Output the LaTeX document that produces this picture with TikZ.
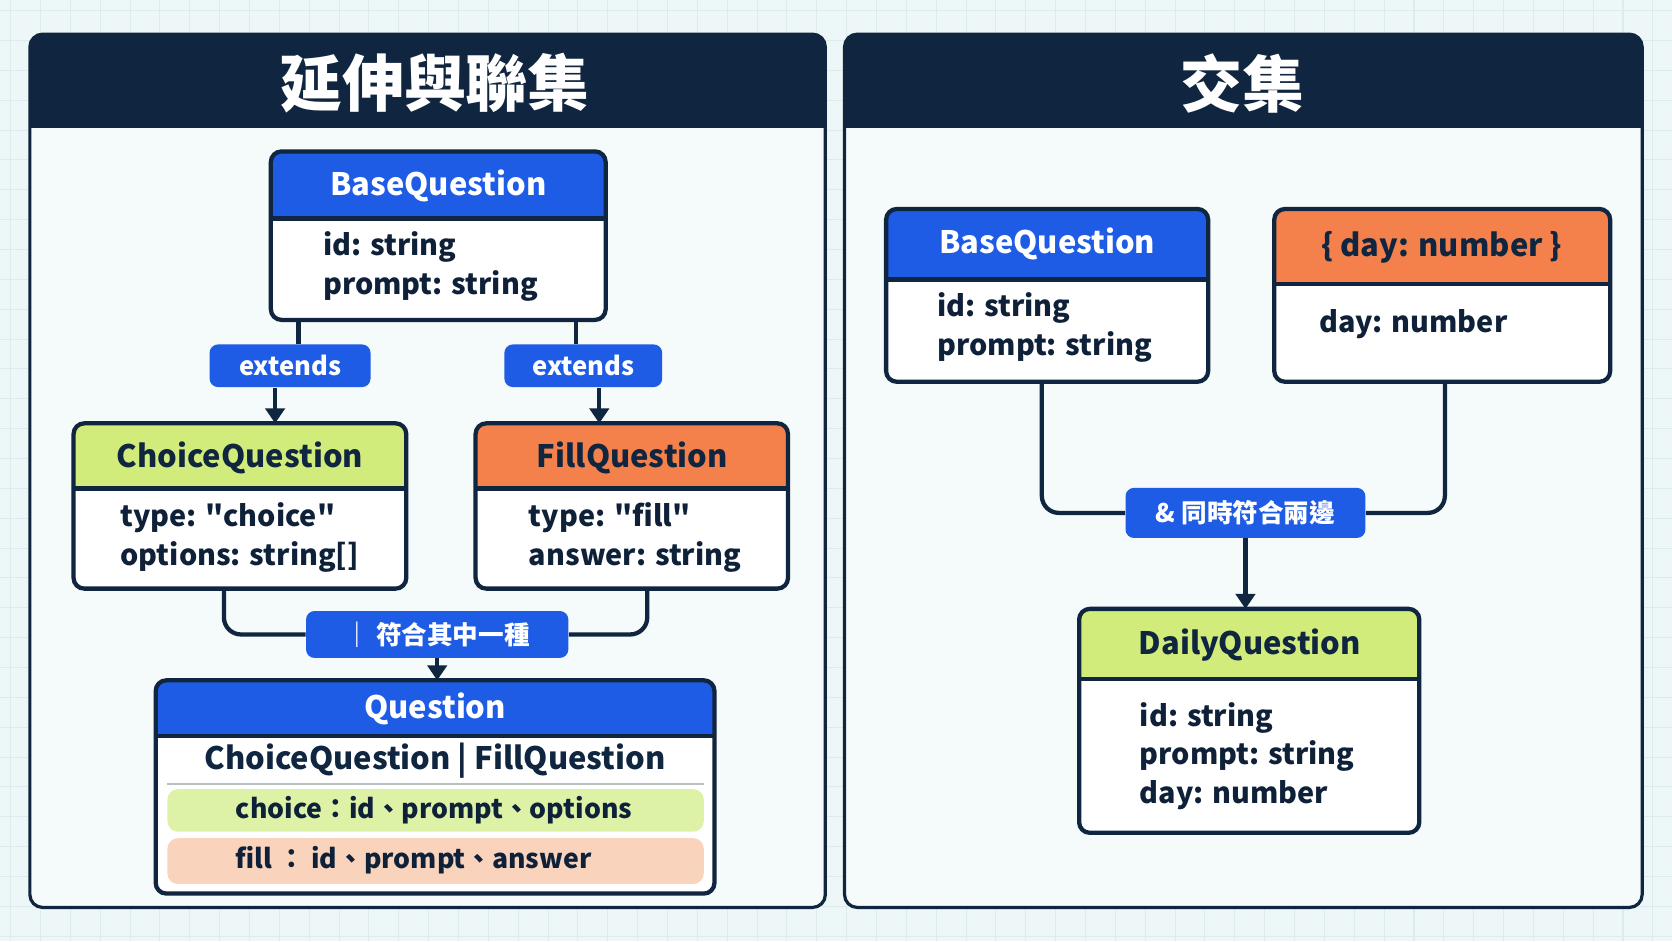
\documentclass[tikz,border=0pt]{standalone}
\usepackage{fontspec}
\newfontfamily\cjk{Noto Sans CJK TC}
\usetikzlibrary{positioning,arrows.meta}
\definecolor{navy}{HTML}{10253F}
\definecolor{hblue}{HTML}{1F5CE6}
\definecolor{hlime}{HTML}{D2EC7C}
\definecolor{horange}{HTML}{F4804B}
\definecolor{bgc}{HTML}{EEF7F7}
\definecolor{gridc}{HTML}{DDEBEC}
\definecolor{rowg}{HTML}{DDF2A6}
\definecolor{rowo}{HTML}{FAD3BD}
\tikzset{
  frame/.style={draw=navy, line width=2pt, rounded corners=5pt},
  link/.style={draw=navy, line width=2pt, rounded corners=8pt},
  arr/.style={draw=navy, line width=2pt, -{Triangle[length=7pt,width=9pt]}},
  tag/.style={fill=hblue, rounded corners=4pt, text=white, font=\cjk\bfseries\fontsize{12}{14}\selectfont},
  head/.style={font=\cjk\bfseries\fontsize{14.5}{18}\selectfont},
  body/.style={font=\cjk\bfseries\fontsize{13.5}{18}\selectfont, text=navy!90!black, align=left, anchor=west},
  row/.style={font=\cjk\bfseries\fontsize{12.5}{16}\selectfont, text=navy!90!black, anchor=west},
  title/.style={font=\cjk\bfseries\fontsize{29}{34}\selectfont, text=white}
}
% box: x1,y1,x2,y2,header bottom,color
\newcommand{\classbox}[6]{%
  \fill[white, rounded corners=5pt] (#1,#2) rectangle (#3,#4);
  \begin{scope}
    \clip[rounded corners=5pt] (#1,#2) rectangle (#3,#4);
    \fill[#6] (#1,#2) rectangle (#3,#5);
  \end{scope}
  \draw[navy, line width=2pt] (#1,#5) -- (#3,#5);
  \draw[frame] (#1,#2) rectangle (#3,#4);
}
\begin{document}
\begin{tikzpicture}[x=0.5pt,y=-0.5pt]
  \useasboundingbox (0,0) rectangle (1568,882.5);
  % Background grid
  \fill[bgc] (0,0) rectangle (1568,882.5);
  \foreach \gx in {10,38,...,1568} \draw[gridc, line width=0.5pt] (\gx,0) -- (\gx,882.5);
  \foreach \gy in {10,38,...,882} \draw[gridc, line width=0.5pt] (0,\gy) -- (1568,\gy);

  % Panels
  \foreach \px/\qx in {28/774, 792/1540} {
    \fill[white!40!bgc, rounded corners=6pt] (\px,32) rectangle (\qx,851);
    \begin{scope}
      \clip[rounded corners=6pt] (\px,32) rectangle (\qx,851);
      \fill[navy] (\px,32) rectangle (\qx,120);
    \end{scope}
    \draw[navy, line width=1.5pt, rounded corners=6pt] (\px,32) rectangle (\qx,851);
  }
  \node[title] (lefttitle) at (408,78) {延伸與聯集};
  \node[title] (righttitle) at (1165,78) {交集};

  % Left: extension and union
  \classbox{254}{142}{568}{300}{205}{hblue}
  \node[head, text=white] (baseL) at (411,174) {BaseQuestion};
  \node[body] (baseLbody) at (296,250) {id: string\\prompt: string};
  \coordinate (baseLa) at (280,300);
  \coordinate (baseLb) at (540,300);

  \classbox{69}{397}{381}{552}{458}{hlime}
  \node[head, text=navy] (choice) at (225,429) {ChoiceQuestion};
  \node[body] (choicebody) at (106,504) {type: "choice"\\options: string[]};
  \coordinate (choiceT) at (258,397);
  \coordinate (choiceB) at (210,552);

  \classbox{446}{397}{739}{552}{458}{horange}
  \node[head, text=navy] (fill) at (593,429) {FillQuestion};
  \node[body] (fillbody) at (489,504) {type: "fill"\\answer: string};
  \coordinate (fillT) at (562,397);
  \coordinate (fillB) at (607,552);

  \node[tag, minimum width=75.5pt, minimum height=20pt] (extA) at (272,343) {extends};
  \node[tag, minimum width=74pt, minimum height=20pt] (extB) at (547,343) {extends};
  \draw[link] (baseLa) -- (baseLa |- extA.north);
  \draw[link] (baseLb) -- (baseLb |- extB.north);
  \draw[arr] (choiceT |- extA.south) -- (choiceT);
  \draw[arr] (fillT |- extB.south) -- (fillT);

  \classbox{146}{638}{670}{838}{690}{hblue}
  \node[head, text=white] (question) at (408,665) {Question};
  \node[head, text=navy] (questionsub) at (408,713) {ChoiceQuestion | FillQuestion};
  \draw[gridc!60!gray, line width=1pt] (157,735) -- (660,735);
  \fill[rowg, rounded corners=5pt] (157,740) rectangle (660,780);
  \fill[rowo, rounded corners=5pt] (157,786) rectangle (660,829);
  \node[row] (rowchoice) at (214,760) {choice：id、prompt、options};
  \node[row] (rowfill) at (214,807) {fill ： id、prompt、answer};
  \coordinate (questionT) at (410,638);

  \node[tag, minimum width=123pt, minimum height=22pt] (union) at (410,595) {｜ 符合其中一種};
  \draw[link] (choiceB) |- (union.west);
  \draw[link] (fillB) |- (union.east);
  \draw[arr] (union.south) -- (questionT);

  % Right: intersection
  \classbox{831}{196}{1133}{358}{262}{hblue}
  \node[head, text=white] (baseR) at (982,229) {BaseQuestion};
  \node[body] (baseRbody) at (872,307) {id: string\\prompt: string};
  \coordinate (baseRB) at (977,358);

  \classbox{1195}{196}{1510}{358}{266}{horange}
  \node[head, text=navy] (day) at (1352,232) {\{ day: number \}};
  \node[body] (daybody) at (1230,304) {day: number};
  \coordinate (dayB) at (1355,358);

  \node[tag, minimum width=112.5pt, minimum height=23.5pt] (inter) at (1168,481) {\& 同時符合兩邊};
  \draw[link] (baseRB) |- (inter.west);
  \draw[link] (dayB) |- (inter.east);

  \classbox{1012}{571}{1331}{781}{637}{hlime}
  \node[head, text=navy] (daily) at (1172,605) {DailyQuestion};
  \node[body] (dailybody) at (1062,709) {id: string\\prompt: string\\day: number};
  \coordinate (dailyT) at (1168,571);
  \draw[arr] (inter.south) -- (dailyT);
\end{tikzpicture}
\end{document}
